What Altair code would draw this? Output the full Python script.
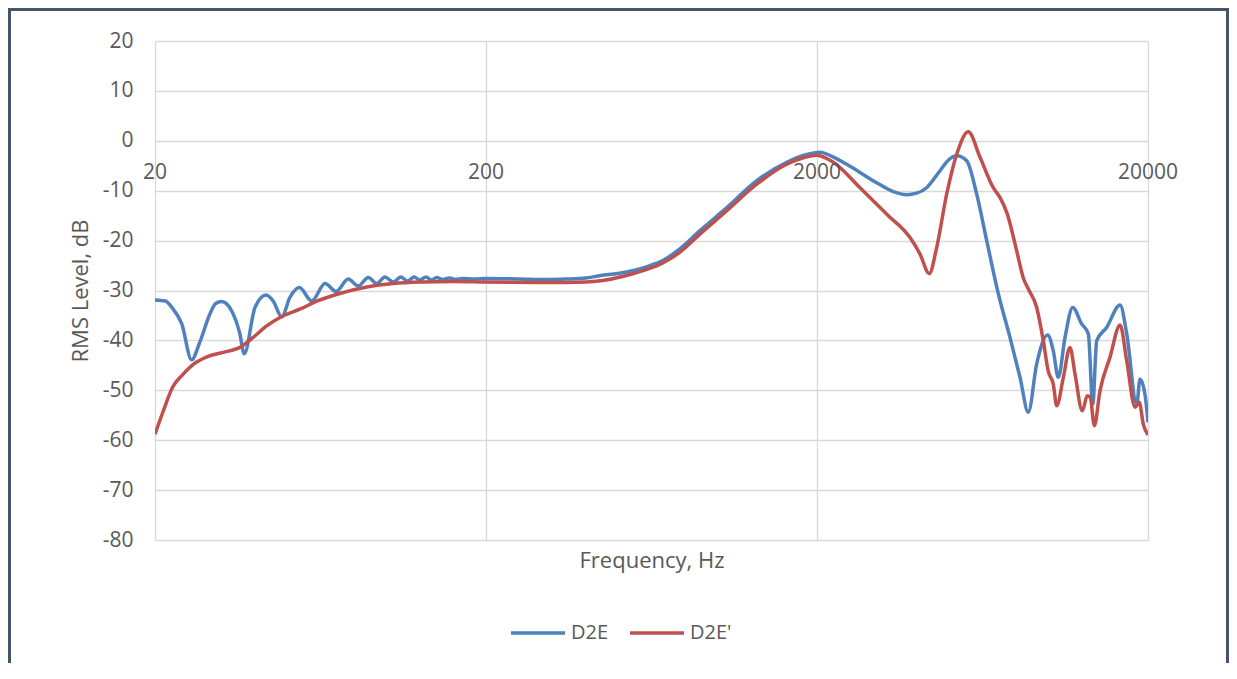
import altair as alt
import pandas as pd

# ---- data ----
series_names = ["D2E", "D2E'"]
series_colors = ["#4F81BD", "#C0504D"]

x_tick_values = [20, 200, 2000, 20000]
x_tick_labels = ["20", "200", "2000", "20000"]
y_tick_values = [-80, -70, -60, -50, -40, -30, -20, -10, 0, 10, 20]

d2e_freq = [20, 21.5, 22.5, 24.1, 25.8, 27.3, 29.3, 30.5, 31.8, 34.1, 36.1, 37.2,
            40.1, 43.3, 45.5, 48.3, 51.1, 54.6, 59.5, 65.3, 70.5, 76.7, 82.2, 88.2,
            93.4, 99, 105, 110.6, 115.8, 121.4, 126, 131.8, 137, 142, 148, 155, 162,
            170, 185, 200, 250, 300, 350, 400, 444, 500, 558, 620, 684, 772, 886,
            1068, 1315, 1620, 1850, 2042, 2200, 2459, 3028, 3400, 3733, 4000, 4287,
            4706, 5000, 5286, 5665, 6075, 6512, 7064, 7657, 8210, 8698, 9220, 9955,
            10350, 10715, 11230, 11844, 12610, 13206, 13620, 13997, 15000, 16468,
            17250, 18490, 18920, 19580, 20000]
d2e_level = [-31.9, -32.1, -33.4, -36.7, -43.9, -40.4, -34.7, -32.6, -32.2, -34.1, -38.7, -42.7,
             -33.4, -30.9, -32.1, -35.3, -31.4, -29.4, -32.1, -28.6, -30.2, -27.7, -29.1, -27.4,
             -28.6, -27.3, -28.3, -27.3, -28.1, -27.3, -27.9, -27.3, -27.9, -27.4, -27.8, -27.5, -27.8,
             -27.6, -27.7, -27.6, -27.7, -27.8, -27.7, -27.5, -27.0, -26.6, -26.0, -25.1, -24.0, -21.6, -18.0,
             -13.4, -8.0, -4.3, -2.8, -2.3, -3.0, -4.7, -8.4, -10.2, -10.8, -10.5, -9.4,
             -6.0, -3.8, -3.0, -4.0, -10.7, -20.0, -30.7, -39.4, -47.4, -54.4, -44.7, -38.9,
             -42.1, -47.4, -39.4, -33.4, -36.7, -38.7, -52.8, -40.1, -37.4, -32.9,
             -38.7, -52.8, -47.8, -50.8, -56.4]

d2e_prime_freq = [20, 21.2, 22.6, 24.3, 26.1, 28.7, 32.1, 36.1, 39.6, 43.5, 47.7, 55.0,
                  61.9, 72.3, 87.3, 105, 129, 160, 200, 300, 400, 450, 558, 684, 772, 886,
                  1068, 1315, 1620, 1800, 1995, 2240, 2697, 3248, 3820, 4095, 4367, 4598,
                  4929, 5286, 5729, 6217, 6818, 7146, 7500, 8020, 8400, 8698, 9220, 9655,
                  9985, 10350, 10600, 11100, 11624, 12036, 12662, 13107, 13380, 13770,
                  14322, 15350, 16468, 17250, 18276, 18820, 19360, 20000]
d2e_prime_level = [-58.8, -54.1, -49.4, -46.8, -44.8, -43.3, -42.4, -41.4, -39.4, -37.1, -35.4, -33.7,
                   -32.1, -30.6, -29.3, -28.6, -28.3, -28.2, -28.3, -28.4, -28.3, -28.0, -26.6, -24.5, -22.3, -18.7,
                   -14.0, -8.7, -4.7, -3.5, -2.9, -4.3, -9.4, -14.7, -19.4, -22.7, -26.6, -21.4,
                   -10.7, -2.7, 1.8, -3.3, -9.4, -11.4, -14.5, -22.0, -27.5, -29.7, -33.4, -40.1,
                   -46.1, -48.8, -53.1, -47.4, -41.4, -46.7, -54.1, -51.1, -51.4, -57.1,
                   -50.1, -43.4, -36.9, -44.1, -53.4, -52.4, -56.8, -58.9]

# ---- tables built from the arrays ----
df = pd.concat([
    pd.DataFrame({"freq": d2e_freq, "level": d2e_level, "series": series_names[0]}),
    pd.DataFrame({"freq": d2e_prime_freq, "level": d2e_prime_level, "series": series_names[1]}),
], ignore_index=True)
ticks_df = pd.DataFrame({"freq": x_tick_values, "label": x_tick_labels})

FONT = "Open Sans"
TEXT = "#595959"
GRID = "#d9d9d9"

x_scale = alt.Scale(type="log", domain=[20, 20000], nice=False)
y_scale = alt.Scale(domain=[-80, 20], nice=False)

lines = alt.Chart(df).mark_line(interpolate="monotone", strokeWidth=3.5, clip=True).encode(
    x=alt.X("freq:Q", scale=x_scale,
            axis=alt.Axis(values=x_tick_values, labels=False, ticks=False, domain=False,
                          grid=True, gridColor=GRID, gridWidth=1.3,
                          title="Frequency, Hz", titleFontSize=22, titleFontWeight="normal",
                          titleColor=TEXT, titleFont=FONT, titlePadding=10)),
    y=alt.Y("level:Q", scale=y_scale,
            axis=alt.Axis(values=y_tick_values, ticks=False, domain=False,
                          grid=True, gridColor=GRID, gridWidth=1.3,
                          labelExpr="'' + datum.value",
                          labelPadding=22, labelFontSize=21, labelColor=TEXT, labelFont=FONT,
                          title="RMS Level, dB", titleFontSize=22, titleFontWeight="normal",
                          titleColor=TEXT, titleFont=FONT, titlePadding=10)),
    color=alt.Color("series:N",
                    scale=alt.Scale(domain=series_names, range=series_colors),
                    legend=alt.Legend(title=None, orient="none", legendX=354, legendY=563,
                                      direction="horizontal", symbolType="stroke",
                                      symbolSize=2916, symbolStrokeWidth=3.5,
                                      labelFontSize=20, labelColor=TEXT, labelFont=FONT,
                                      columnPadding=14, labelOffset=4)),
)

xlabels = alt.Chart(ticks_df).mark_text(fontSize=21, font=FONT, color=TEXT, dy=32, align="center").encode(
    x=alt.X("freq:Q", scale=x_scale),
    y=alt.datum(0),
    text="label:N",
)

frame = alt.Chart(alt.Data(values=[{"a": 1}])).mark_rect(
    filled=False, stroke="#44546A", strokeWidth=3, clip=False
).encode(
    x=alt.value(-145.5), x2=alt.value(1072.5),
    y=alt.value(-31.5), y2=alt.value(700),
)

chart = alt.layer(lines, xlabels, frame).properties(
    width=993, height=499,
    padding={"left": 147, "top": 33, "right": 81, "bottom": 123},
    autosize=alt.AutoSizeParams(type="none"),
    background="white",
).configure_view(stroke=None)

chart.save("out.html", embed_options={"renderer": "svg", "actions": False})
